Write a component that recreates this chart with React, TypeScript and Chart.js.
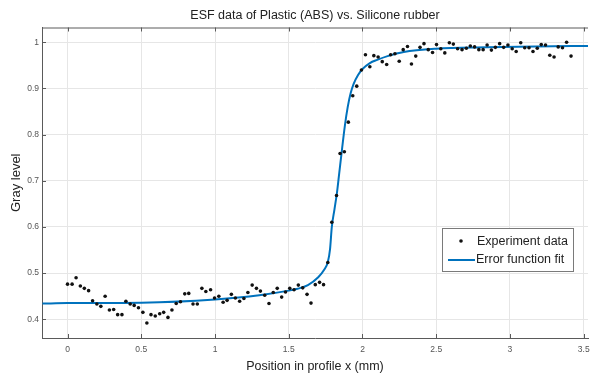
import { useEffect, useRef } from 'react';
import { Chart, registerables } from 'chart.js';

Chart.register(...registerables);

const FONT = '"Liberation Sans", Arial, Helvetica, sans-serif';

const chartTitle = 'ESF data of Plastic (ABS) vs. Silicone rubber';
const xAxisTitle = 'Position in profile x (mm)';
const yAxisTitle = 'Gray level';
const legendLabels = ['Experiment data', 'Error function fit'];

const xTicks = [0, 0.5, 1, 1.5, 2, 2.5, 3, 3.5];
const yTicks = [0.4, 0.5, 0.6, 0.7, 0.8, 0.9, 1];

const expX = [
  0.0, 0.031, 0.058, 0.087, 0.114, 0.143, 0.17, 0.199, 0.226, 0.255, 0.284, 0.313, 0.34, 0.369,
  0.396, 0.425, 0.452, 0.481, 0.511, 0.538, 0.566, 0.595, 0.625, 0.652, 0.681, 0.708, 0.737,
  0.766, 0.795, 0.822, 0.851, 0.88, 0.911, 0.938, 0.97, 0.997, 1.026, 1.055, 1.082, 1.111, 1.138,
  1.167, 1.196, 1.223, 1.252, 1.281, 1.308, 1.337, 1.366, 1.395, 1.422, 1.452, 1.478, 1.507,
  1.536, 1.565, 1.595, 1.624, 1.651, 1.68, 1.709, 1.736, 1.765, 1.792, 1.824, 1.848, 1.877,
  1.904, 1.934, 1.961, 1.993, 2.02, 2.05, 2.077, 2.106, 2.134, 2.164, 2.191, 2.22, 2.249, 2.276,
  2.305, 2.332, 2.361, 2.39, 2.417, 2.446, 2.475, 2.502, 2.531, 2.558, 2.589, 2.616, 2.645,
  2.675, 2.704, 2.731, 2.76, 2.789, 2.818, 2.845, 2.874, 2.901, 2.93, 2.957, 2.986, 3.015, 3.042,
  3.073, 3.1, 3.129, 3.156, 3.185, 3.212, 3.241, 3.27, 3.299, 3.327, 3.356, 3.384, 3.414,
];
const expY = [
  0.476, 0.476, 0.49, 0.472, 0.467, 0.462, 0.44, 0.433, 0.428, 0.45, 0.42, 0.421, 0.41, 0.41,
  0.439, 0.433, 0.43, 0.425, 0.415, 0.392, 0.41, 0.407, 0.412, 0.415, 0.404, 0.42, 0.434,
  0.438, 0.455, 0.456, 0.433, 0.433, 0.467, 0.46, 0.464, 0.446, 0.45, 0.437, 0.441, 0.454, 0.446,
  0.439, 0.445, 0.458, 0.474, 0.467, 0.461, 0.452, 0.434, 0.458, 0.467, 0.448, 0.459, 0.467,
  0.464, 0.474, 0.468, 0.454, 0.435, 0.475, 0.48, 0.475, 0.523, 0.61, 0.668, 0.759, 0.763,
  0.827, 0.884, 0.905, 0.94, 0.973, 0.947, 0.971, 0.968, 0.958, 0.952, 0.973, 0.975, 0.959, 0.984,
  0.991, 0.953, 0.97, 0.989, 0.997, 0.984, 0.978, 0.995, 0.986, 0.977, 0.999, 0.996, 0.986,
  0.984, 0.987, 0.992, 0.99, 0.984, 0.984, 0.994, 0.983, 0.989, 0.997, 0.989, 0.994, 0.986, 0.98,
  0.999, 0.988, 0.988, 0.98, 0.987, 0.995, 0.994, 0.972, 0.968, 0.99, 0.988, 1.0, 0.97,
];

const fitX = [
  -0.17, 0, 0.5, 1.0, 1.3, 1.5, 1.56, 1.63, 1.7, 1.74, 1.765, 1.78, 1.792, 1.81, 1.826, 1.84,
  1.86, 1.88, 1.9, 1.92, 1.94, 1.97, 2.0, 2.05, 2.1, 2.17, 2.28, 2.5, 2.84, 3.17, 3.53,
];
const fitY = [
  0.434, 0.435, 0.436, 0.443, 0.452, 0.462, 0.466, 0.474, 0.491, 0.507, 0.524, 0.552, 0.6,
  0.638, 0.672, 0.71, 0.765, 0.818, 0.86, 0.89, 0.91, 0.929, 0.942, 0.955, 0.962, 0.97, 0.979,
  0.986, 0.989, 0.991, 0.992,
];

const BLUE = '#0072BD';
const AXIS = '#5a5a5a';

const framePlugin = {
  id: 'frame',
  beforeDatasetsDraw(chart: any) {
    const { ctx, chartArea } = chart;
    const xs = chart.scales.x;
    const ys = chart.scales.y;
    ctx.save();
    ctx.strokeStyle = AXIS;
    ctx.lineWidth = 1;
    ctx.beginPath();
    ctx.moveTo(chartArea.left, chartArea.top + 0.5);
    ctx.lineTo(chartArea.right, chartArea.top + 0.5);
    xTicks.forEach((v) => {
      const px = Math.round(xs.getPixelForValue(v)) + 0.5;
      ctx.moveTo(px, chartArea.top);
      ctx.lineTo(px, chartArea.top + 4);
      ctx.moveTo(px, chartArea.bottom);
      ctx.lineTo(px, chartArea.bottom - 4);
    });
    yTicks.forEach((v) => {
      const py = Math.round(ys.getPixelForValue(v)) + 0.5;
      ctx.moveTo(chartArea.left, py);
      ctx.lineTo(chartArea.left + 4, py);
    });
    ctx.stroke();
    ctx.restore();
  },
  afterDraw(chart: any) {
    const { ctx } = chart;
    const bx = 442.5;
    const by = 228.5;
    const bw = 131;
    const bh = 43;
    ctx.save();
    ctx.fillStyle = '#ffffff';
    ctx.fillRect(bx, by, bw, bh);
    ctx.strokeStyle = '#7a7a7a';
    ctx.lineWidth = 1;
    ctx.strokeRect(bx, by, bw, bh);
    ctx.fillStyle = '#111';
    ctx.beginPath();
    ctx.arc(461, 241, 1.8, 0, Math.PI * 2);
    ctx.fill();
    ctx.strokeStyle = BLUE;
    ctx.lineWidth = 2;
    ctx.beginPath();
    ctx.moveTo(448, 260);
    ctx.lineTo(475, 260);
    ctx.stroke();
    ctx.fillStyle = '#222';
    ctx.font = `12.5px ${FONT}`;
    ctx.textBaseline = 'middle';
    ctx.textAlign = 'left';
    ctx.fillText(legendLabels[0], 477, 241.5);
    ctx.fillText(legendLabels[1], 476, 260);
    ctx.restore();
  },
};

export default function App() {
  const ref = useRef<HTMLCanvasElement>(null);
  useEffect(() => {
    document.body.style.margin = '0';
    Chart.defaults.font.family = FONT;
    const chart = new Chart(ref.current as HTMLCanvasElement, {
      type: 'scatter',
      data: {
        datasets: [
          {
            label: legendLabels[0],
            data: expX.map((x, i) => ({ x, y: expY[i] })),
            pointRadius: 1.8,
            pointBackgroundColor: '#111',
            pointBorderWidth: 0,
            showLine: false,
            order: 0,
          },
          {
            label: legendLabels[1],
            data: fitX.map((x, i) => ({ x, y: fitY[i] })),
            showLine: true,
            borderColor: BLUE,
            borderWidth: 2,
            pointRadius: 0,
            cubicInterpolationMode: 'monotone',
            order: 1,
          } as any,
        ],
      },
      options: {
        animation: false,
        responsive: false,
        layout: { padding: 0 },
        plugins: {
          legend: { display: false },
          tooltip: { enabled: false },
          title: {
            display: true,
            fullSize: false,
            text: chartTitle,
            color: '#222',
            font: { size: 12.5, weight: 'normal', family: FONT },
            padding: { top: 8, bottom: 4.5 },
          },
        },
        scales: {
          x: {
            type: 'linear',
            min: -0.173,
            max: 3.529,
            afterBuildTicks: (s: any) => {
              s.ticks = xTicks.map((v) => ({ value: v }));
            },
            afterFit: (s: any) => {
              s.height = 36;
              s.paddingLeft = 0;
              s.paddingRight = 0;
            },
            ticks: {
              autoSkip: false,
              maxRotation: 0,
              padding: 7,
              color: '#555',
              font: { size: 8.5 },
              callback: (v: any) => String(v),
            },
            grid: { color: '#e6e6e6', drawTicks: false },
            border: { color: AXIS },
            title: {
              display: true,
              text: xAxisTitle,
              color: '#222',
              font: { size: 12.5 },
              padding: { top: 0, bottom: 0 },
            },
          },
          y: {
            type: 'linear',
            min: 0.3594,
            max: 1.032,
            afterBuildTicks: (s: any) => {
              s.ticks = yTicks.map((v) => ({ value: v }));
            },
            afterFit: (s: any) => {
              s.width = 42;
              s.paddingTop = 0;
              s.paddingBottom = 0;
            },
            ticks: {
              autoSkip: false,
              padding: 3,
              color: '#555',
              font: { size: 8.5 },
              callback: (v: any) => String(v),
            },
            grid: { color: '#e6e6e6', drawTicks: false },
            border: { color: AXIS },
            title: {
              display: true,
              text: yAxisTitle,
              color: '#222',
              font: { size: 13 },
              padding: { top: 9, bottom: 0 },
            },
          },
        },
      } as any,
      plugins: [framePlugin],
    });
    return () => chart.destroy();
  }, []);
  return (
    <div style={{ width: 592, height: 374 }}>
      <canvas ref={ref} width={592} height={374} style={{ display: 'block' }} />
    </div>
  );
}
